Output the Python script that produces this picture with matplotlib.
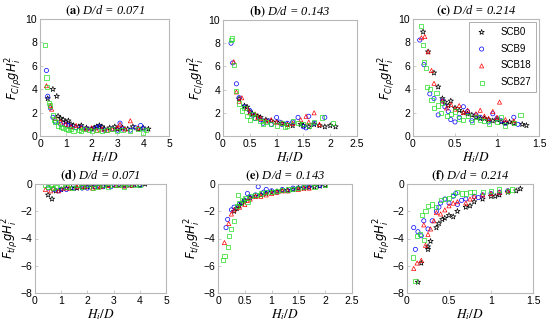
import matplotlib
matplotlib.use("Agg")
import matplotlib.pyplot as plt

series_names = ["SCB0", "SCB9", "SCB18", "SCB27"]
colors = ["black", "blue", "red", "#22dd22"]
markers = ["*", "o", "^", "s"]

titles = ["(a)", "(b)", "(c)", "(d)", "(e)", "(f)"]
ratios = ["0.071", "0.143", "0.214", "0.071", "0.143", "0.214"]

# ---------- Panel a: Fc, D/d = 0.071 ----------
a_scb0_x = [0.3,0.5,0.65,0.7,0.8,0.9,1.0,1.1,1.2,1.3,1.5,1.6,1.8,2.0,2.1,2.2,2.3,2.4,2.5,2.7,2.9,3.0,3.2,3.4,3.6,3.8,4.0,4.2]
a_scb0_y = [3.2,4.0,3.4,1.7,1.5,1.4,1.2,1.3,1.0,0.9,0.8,0.9,0.7,0.6,0.7,0.8,0.9,0.8,0.6,0.7,0.8,0.6,0.7,0.6,0.8,0.6,0.7,0.6]
a_scb9_x = [0.25,0.3,0.4,0.5,0.6,0.8,1.0,1.1,1.2,1.4,1.6,1.8,2.0,2.2,2.3,2.5,2.8,3.0,3.1,3.2,3.5,3.7,3.9,4.0]
a_scb9_y = [5.6,3.4,2.4,1.6,1.2,1.0,1.0,0.9,0.8,0.7,0.7,0.6,0.6,0.7,0.8,0.5,0.6,0.5,1.1,0.6,0.5,0.7,0.9,0.6]
a_scb18_x = [0.25,0.4,0.45,0.6,0.8,1.0,1.2,1.4,1.6,1.8,2.0,2.2,2.4,2.6,2.8,3.0,3.1,3.3,3.5,3.8]
a_scb18_y = [4.3,2.6,2.3,1.5,1.2,1.0,0.8,0.9,0.7,0.6,0.7,0.5,0.6,0.5,0.6,0.7,1.0,0.6,1.3,0.7]
a_scb27_x = [0.2,0.25,0.28,0.35,0.4,0.5,0.55,0.6,0.7,0.8,0.9,1.0,1.1,1.2,1.3,1.5,1.6,1.7,1.9,2.0,2.2,2.4,2.6,2.8,3.0,3.2,3.5,3.8,4.0,4.1]
a_scb27_y = [7.8,5.0,4.2,2.8,2.6,1.8,1.4,1.2,0.9,0.8,0.7,0.6,0.5,0.6,0.4,0.5,0.4,0.6,0.5,0.4,0.5,0.4,0.5,0.6,0.4,0.5,0.4,0.6,0.3,0.5]

# ---------- Panel b: Fc, D/d = 0.143 ----------
b_scb0_x = [0.3,0.4,0.45,0.5,0.55,0.6,0.65,0.7,0.8,0.9,1.0,1.1,1.2,1.3,1.45,1.5,1.6,1.7,1.8,1.9,2.0,2.1]
b_scb0_y = [3.2,2.6,2.5,2.1,1.9,1.8,1.7,1.6,1.4,1.3,1.2,1.1,1.0,0.9,1.0,0.9,0.8,1.0,0.9,0.8,0.9,0.8]
b_scb9_x = [0.15,0.18,0.25,0.3,0.4,0.5,0.55,0.6,0.7,0.75,0.85,0.9,1.0,1.05,1.1,1.2,1.3,1.4,1.5,1.55,1.6,1.7,1.9]
b_scb9_y = [8.0,6.3,4.5,3.3,2.5,2.2,1.8,1.5,1.4,1.1,1.3,1.0,1.6,1.2,1.0,1.1,1.2,1.6,0.8,0.7,1.7,1.1,1.6]
b_scb18_x = [0.2,0.25,0.3,0.35,0.45,0.5,0.6,0.65,0.7,0.8,0.9,1.0,1.1,1.2,1.3,1.45,1.55,1.6,1.7,1.8]
b_scb18_y = [6.4,3.8,3.0,3.3,2.4,2.0,1.9,1.6,1.5,1.3,1.4,1.2,1.1,1.0,1.1,1.4,1.7,1.2,2.0,1.0]
b_scb27_x = [0.15,0.17,0.2,0.25,0.3,0.35,0.4,0.45,0.5,0.55,0.6,0.7,0.75,0.8,0.9,1.0,1.1,1.15,1.2,1.3,1.4,1.5,1.6,1.7,1.85,2.05]
b_scb27_y = [8.3,8.4,6.1,3.9,2.8,2.2,2.4,1.7,1.4,1.9,1.6,1.3,1.0,1.2,1.0,0.9,1.1,0.8,0.9,1.3,1.1,1.0,0.9,1.2,1.6,1.1]

# ---------- Panel c: Fc, D/d = 0.214 ----------
c_scb0_x = [0.12,0.18,0.25,0.3,0.35,0.38,0.42,0.45,0.5,0.55,0.6,0.65,0.7,0.75,0.8,0.85,0.9,0.95,1.0,1.05,1.1,1.15,1.2,1.3,1.35]
c_scb0_y = [8.9,7.2,5.4,4.2,3.2,2.9,2.6,3.0,2.4,2.2,2.0,1.9,1.8,1.6,1.5,1.5,1.4,1.3,1.4,1.2,1.1,1.2,1.1,1.0,0.9]
c_scb9_x = [0.08,0.13,0.2,0.25,0.3,0.35,0.38,0.42,0.45,0.5,0.55,0.6,0.65,0.7,0.75,0.8,0.9,0.95,1.0,1.05,1.1,1.2,1.25]
c_scb9_y = [8.2,6.1,3.6,3.2,1.8,3.0,2.5,2.1,1.4,1.2,1.6,2.5,2.1,1.3,1.8,1.6,1.2,1.9,1.5,1.3,1.1,1.6,1.0]
c_scb18_x = [0.1,0.14,0.18,0.22,0.25,0.35,0.4,0.45,0.5,0.55,0.6,0.65,0.75,0.8,0.85,0.9,0.95,1.0,1.03,1.1,1.2]
c_scb18_y = [8.4,8.5,7.2,5.6,4.5,3.0,2.4,2.7,2.3,2.6,2.0,2.2,1.9,2.2,1.7,1.5,2.1,1.6,2.9,1.4,1.3]
c_scb27_x = [0.1,0.12,0.13,0.15,0.17,0.2,0.22,0.25,0.28,0.3,0.33,0.35,0.4,0.45,0.5,0.55,0.6,0.65,0.7,0.75,0.8,0.85,0.9,1.0,1.05,1.1,1.2,1.28]
c_scb27_y = [9.4,7.8,6.3,5.8,4.2,4.0,3.1,2.4,3.7,2.6,2.0,2.8,1.7,1.9,2.1,1.5,1.4,1.7,1.2,1.6,1.4,1.3,1.0,1.2,1.6,0.9,1.1,1.8]

# ---------- Panel d: Ft, D/d = 0.071 ----------
d_scb0_x = [0.5,0.65,0.8,1.0,1.2,1.4,1.6,1.8,2.0,2.2,2.4,2.6,2.8,3.0,3.2,3.4,3.6,3.8,4.0,4.2]
d_scb0_y = [-0.8,-1.1,-0.5,-0.4,-0.3,-0.3,-0.3,-0.2,-0.2,-0.2,-0.2,-0.15,-0.1,-0.1,-0.1,-0.1,-0.1,-0.05,-0.1,0.0]
d_scb9_x = [0.5,0.7,0.9,1.0,1.2,1.5,1.8,2.0,2.3,2.6,2.9,3.1,3.4,3.7,4.0]
d_scb9_y = [-0.3,-0.4,-0.5,-0.4,-0.4,-0.3,-0.3,-0.3,-0.2,-0.2,-0.2,-0.1,-0.1,-0.1,-0.1]
d_scb18_x = [0.4,0.6,0.7,0.9,1.1,1.3,1.6,1.9,2.2,2.5,2.8,3.1,3.4,3.7]
d_scb18_y = [-0.4,-0.5,-0.3,-0.5,-0.3,-0.3,-0.2,-0.2,-0.3,-0.2,-0.1,-0.1,-0.15,-0.1]
d_scb27_x = [0.4,0.5,0.6,0.7,0.8,1.0,1.2,1.4,1.6,1.8,2.0,2.2,2.4,2.6,2.8,3.0,3.2,3.4,3.6,3.8,4.0]
d_scb27_y = [-0.1,-0.2,-0.1,-0.3,-0.2,-0.1,-0.2,-0.3,-0.1,-0.2,-0.1,-0.3,-0.2,-0.1,-0.2,-0.1,-0.1,-0.2,0.0,-0.1,-0.1]

# ---------- Panel e: Ft, D/d = 0.143 ----------
e_scb0_x = [0.3,0.35,0.4,0.45,0.5,0.6,0.7,0.8,0.9,1.0,1.1,1.2,1.3,1.4,1.5,1.6,1.7,1.8,1.9,2.0]
e_scb0_y = [-2.0,-1.8,-1.6,-1.4,-1.2,-1.0,-0.9,-0.8,-0.7,-0.6,-0.55,-0.5,-0.45,-0.4,-0.3,-0.3,-0.25,-0.2,-0.15,-0.1]
e_scb9_x = [0.15,0.18,0.25,0.3,0.4,0.5,0.55,0.6,0.7,0.75,0.85,0.9,1.0,1.1,1.2,1.3,1.4,1.5,1.6,1.7,1.9]
e_scb9_y = [-3.2,-2.6,-1.9,-1.7,-1.5,-1.2,-0.7,-1.0,-0.8,-0.2,-0.6,-0.4,-0.5,-0.6,-0.4,-0.5,-0.3,-0.3,-0.2,-0.2,-0.1]
e_scb18_x = [0.12,0.2,0.25,0.3,0.4,0.5,0.55,0.6,0.7,0.8,0.9,1.0,1.1,1.2,1.3,1.5,1.6,1.7]
e_scb18_y = [-4.3,-2.9,-2.2,-1.9,-1.7,-1.5,-1.2,-1.1,-0.9,-0.9,-0.8,-0.7,-0.6,-0.5,-0.5,-0.4,-0.3,-0.3]
e_scb27_x = [0.1,0.12,0.18,0.2,0.25,0.3,0.35,0.38,0.4,0.45,0.5,0.55,0.6,0.7,0.8,0.9,1.0,1.1,1.2,1.3,1.4,1.5,1.6,1.8,2.0]
e_scb27_y = [-5.6,-5.3,-4.6,-3.8,-3.3,-2.7,-1.6,-0.8,-1.4,-1.2,-1.0,-1.3,-0.9,-0.8,-0.7,-0.6,-0.6,-0.5,-0.45,-0.4,-0.35,-0.3,-0.25,-0.2,-0.1]

# ---------- Panel f: Ft, D/d = 0.214 ----------
f_scb0_x = [0.13,0.17,0.25,0.25,0.28,0.35,0.38,0.42,0.45,0.5,0.55,0.6,0.7,0.75,0.8,0.9,1.0,1.05,1.1,1.2,1.3,1.35]
f_scb0_y = [-7.2,-5.8,-4.6,-4.8,-4.2,-3.2,-2.9,-2.6,-2.5,-2.3,-2.4,-2.0,-1.7,-1.6,-1.3,-1.1,-0.9,-0.9,-0.8,-0.6,-0.5,-0.35]
f_scb9_x = [0.08,0.1,0.13,0.17,0.2,0.25,0.3,0.35,0.38,0.4,0.45,0.5,0.55,0.58,0.6,0.65,0.7,0.8,0.85,0.9,1.0,1.1,1.2]
f_scb9_y = [-3.2,-4.8,-3.5,-3.8,-2.7,-3.3,-2.7,-2.0,-1.7,-1.4,-1.1,-1.4,-0.9,-0.7,-1.5,-1.2,-1.1,-0.9,-1.0,-0.8,-0.7,-0.6,-0.5]
f_scb18_x = [0.08,0.12,0.17,0.2,0.22,0.25,0.28,0.32,0.35,0.4,0.45,0.5,0.55,0.6,0.7,0.75,0.8,0.9,1.0,1.1,1.2]
f_scb18_y = [-6.2,-5.8,-5.6,-3.0,-4.5,-3.7,-3.3,-2.7,-2.1,-2.2,-1.9,-1.6,-1.4,-1.3,-1.4,-1.1,-0.9,-0.8,-0.7,-0.6,-0.5]
f_scb27_x = [0.07,0.1,0.12,0.15,0.18,0.2,0.22,0.25,0.3,0.35,0.4,0.45,0.5,0.55,0.6,0.65,0.7,0.75,0.8,0.9,1.0,1.1,1.2,1.25]
f_scb27_y = [-5.4,-7.1,-3.8,-3.7,-2.3,-4.1,-2.0,-1.6,-1.5,-1.7,-1.2,-1.1,-1.0,-0.8,-0.6,-0.7,-0.7,-0.6,-0.6,-0.6,-0.5,-0.4,-0.5,-0.4]

panels = [
    [(a_scb0_x, a_scb0_y), (a_scb9_x, a_scb9_y), (a_scb18_x, a_scb18_y), (a_scb27_x, a_scb27_y)],
    [(b_scb0_x, b_scb0_y), (b_scb9_x, b_scb9_y), (b_scb18_x, b_scb18_y), (b_scb27_x, b_scb27_y)],
    [(c_scb0_x, c_scb0_y), (c_scb9_x, c_scb9_y), (c_scb18_x, c_scb18_y), (c_scb27_x, c_scb27_y)],
    [(d_scb0_x, d_scb0_y), (d_scb9_x, d_scb9_y), (d_scb18_x, d_scb18_y), (d_scb27_x, d_scb27_y)],
    [(e_scb0_x, e_scb0_y), (e_scb9_x, e_scb9_y), (e_scb18_x, e_scb18_y), (e_scb27_x, e_scb27_y)],
    [(f_scb0_x, f_scb0_y), (f_scb9_x, f_scb9_y), (f_scb18_x, f_scb18_y), (f_scb27_x, f_scb27_y)],
]

xlims = [(0, 5), (0, 2.5), (0, 1.5), (0, 5), (0, 2.5), (0, 1.5)]
xticks = [[0, 1, 2, 3, 4, 5], [0, 0.5, 1, 1.5, 2, 2.5], [0, 0.5, 1, 1.5],
          [0, 1, 2, 3, 4, 5], [0, 0.5, 1, 1.5, 2, 2.5], [0, 0.5, 1, 1.5]]
xticklabels = [["0", "1", "2", "3", "4", "5"], ["0", "0.5", "1", "1.5", "2", "2.5"], ["0", "0.5", "1", "1.5"],
               ["0", "1", "2", "3", "4", "5"], ["0", "0.5", "1", "1.5", "2", "2.5"], ["0", "0.5", "1", "1.5"]]

W, H = 550, 324
# axes boxes in pixels: left, right, top, bottom
boxes = [(40, 169, 19, 136), (223, 357, 20, 136), (413, 539, 19, 136),
         (35, 166, 184, 293), (218, 352, 184, 293), (407, 533, 184, 293)]

fig = plt.figure(figsize=(5.5, 3.24), dpi=100)
for i in range(6):
    l, r, t, b = boxes[i]
    ax = fig.add_axes([l / W, 1 - b / H, (r - l) / W, (b - t) / H])
    for k in range(4):
        xs, ys = panels[i][k]
        ms = 16 if markers[k] == "*" else 9
        ax.scatter(xs, ys, s=ms, marker=markers[k], facecolors="none",
                   edgecolors=colors[k], linewidths=0.5, label=series_names[k])
    ax.set_xlim(*xlims[i])
    ax.set_xticks(xticks[i])
    ax.set_xticklabels(xticklabels[i])
    if i < 3:
        ax.set_ylim(0, 10)
        ax.set_yticks([0, 2, 4, 6, 8, 10])
        ax.set_ylabel(r"$F_{C/\rho}gH_i^2$", fontsize=8.5, labelpad=1)
    else:
        ax.set_ylim(-8, 0)
        ax.set_yticks([-8, -6, -4, -2, 0])
        ax.set_ylabel(r"$F_{t/\rho}gH_i^2$", fontsize=8.5, labelpad=0)
    ax.set_xlabel(r"$H_i/D$", fontsize=9.5, math_fontfamily="stix", labelpad=1)
    ax.set_title(r"$\mathbf{" + titles[i] + r"}$ D/d = " + ratios[i],
                 fontsize=9, fontfamily="Liberation Serif", fontstyle="italic",
                 math_fontfamily="stix", pad=4)
    for sp in ax.spines.values():
        sp.set_color("#b8b8b8")
        sp.set_linewidth(0.8)
    ax.tick_params(direction="in", length=2, width=0.5, color="#b8b8b8",
                   labelsize=7.5, pad=2)
    for lab in ax.get_xticklabels() + ax.get_yticklabels():
        lab.set_family("Liberation Sans")
    if i == 2:
        leg = ax.legend(loc="upper right", fontsize=7, frameon=True, fancybox=False,
                        edgecolor="#888888", handletextpad=1.2, borderpad=0.5,
                        labelspacing=0.7, handlelength=1.5, borderaxespad=0.3,
                        prop={"family": "Liberation Sans", "size": 7})
        leg.get_frame().set_linewidth(0.6)

fig.savefig("out.png", dpi=100)
